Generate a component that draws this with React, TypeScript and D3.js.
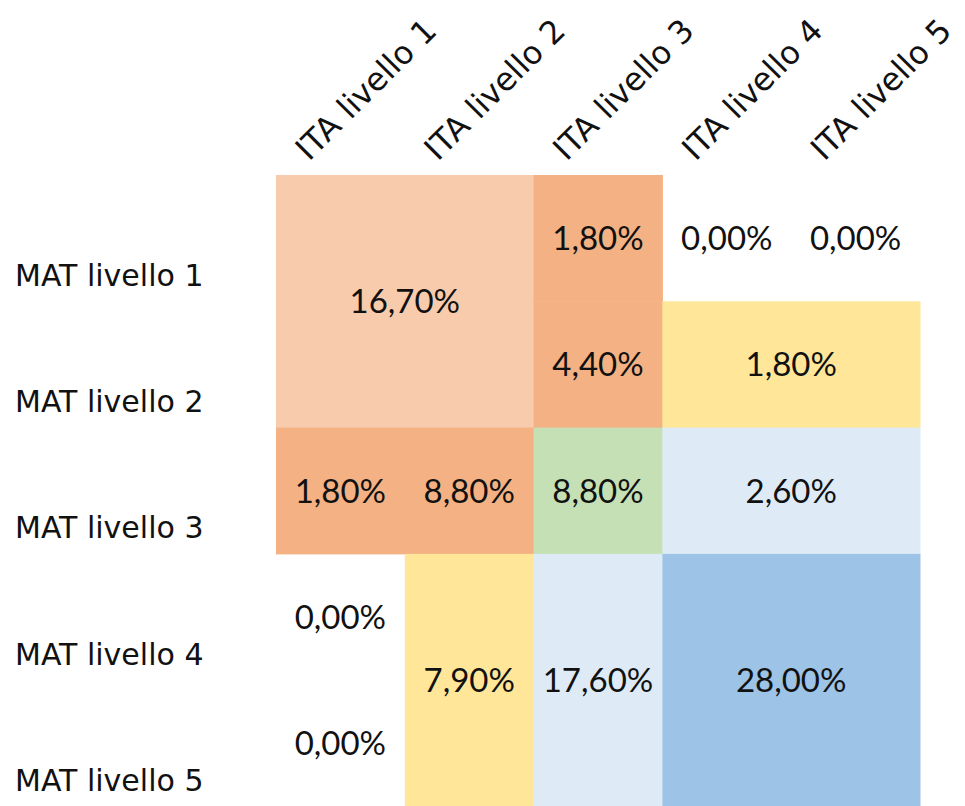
import React from "react";
import * as d3 from "d3";

const colLabels = ["ITA livello 1", "ITA livello 2", "ITA livello 3", "ITA livello 4", "ITA livello 5"];
const rowLabels = ["MAT livello 1", "MAT livello 2", "MAT livello 3", "MAT livello 4", "MAT livello 5"];

// merged-cell table: value (%), row, col, rowSpan, colSpan, tone
const cellValues = [16.7, 1.8, 4.4, 0.0, 0.0, 1.8, 1.8, 8.8, 8.8, 2.6, 0.0, 0.0, 7.9, 17.6, 28.0];
const cellRows = [0, 0, 1, 0, 0, 1, 2, 2, 2, 2, 3, 4, 3, 3, 3];
const cellCols = [0, 2, 2, 3, 4, 3, 0, 1, 2, 3, 0, 0, 1, 2, 3];
const cellRowSpans = [2, 1, 1, 1, 1, 1, 1, 1, 1, 1, 1, 1, 2, 2, 2];
const cellColSpans = [2, 1, 1, 1, 1, 2, 1, 1, 1, 2, 1, 1, 1, 1, 2];
const cellTones = ["peach", "orange", "orange", "none", "none", "yellow", "orange", "orange", "green", "lightblue", "none", "none", "yellow", "lightblue", "blue"];

const toneNames = ["peach", "orange", "yellow", "green", "lightblue", "blue", "none"];
const toneColors = ["#F8CBAD", "#F4B183", "#FFE699", "#C5E0B4", "#DEEBF7", "#9DC3E6", "none"];

const W = 965;
const H = 806;

export default function App() {
  const x = d3.scaleBand<string>().domain(colLabels).range([276, 920]).padding(0);
  const y = d3.scaleBand<string>().domain(rowLabels).range([175, 806.5]).padding(0);
  const color = d3.scaleOrdinal<string, string>().domain(toneNames).range(toneColors);
  const fmt = (v: number) => d3.format(".2f")(v).replace(".", ",") + "%";

  const cells = cellValues.map((v, i) => {
    const x0 = x(colLabels[cellCols[i]])!;
    const y0 = y(rowLabels[cellRows[i]])!;
    const w = x.bandwidth() * cellColSpans[i];
    const h = y.bandwidth() * cellRowSpans[i];
    return { v, x0, y0, w, h, fill: color(cellTones[i]) };
  });

  const valueFont = "Lato, 'Open Sans', sans-serif";
  const labelFont = "'Comic Sans MS', 'DejaVu Sans', sans-serif";

  return (
    <svg
      width={W}
      height={H}
      style={{ position: "absolute", left: 0, top: 0, display: "block", background: "#fff" }}
    >
      <g>
        {cells.map((c, i) =>
          c.fill === "none" ? null : (
            <rect key={"r" + i} x={c.x0} y={c.y0} width={c.w + 0.5} height={c.h + 0.5} fill={c.fill} />
          )
        )}
      </g>
      <g fontFamily={valueFont} fontSize={33} fill="#111">
        {cells.map((c, i) => (
          <text key={"t" + i} x={c.x0 + c.w / 2} y={c.y0 + c.h / 2 + 12} textAnchor="middle">
            {fmt(c.v)}
          </text>
        ))}
      </g>
      <g fontFamily={labelFont} fontSize={30} fill="#111">
        {rowLabels.map((r) => (
          <text key={r} x={15} y={y(r)! + y.bandwidth() * 0.79 + 11}>
            {r}
          </text>
        ))}
      </g>
      <g fontFamily={labelFont} fontSize={32} fill="#111">
        {colLabels.map((c) => {
          const px = x(c)! + 33;
          const py = 162;
          return (
            <text key={c} x={px} y={py} transform={`rotate(-45 ${px} ${py})`}>
              {c}
            </text>
          );
        })}
      </g>
    </svg>
  );
}
